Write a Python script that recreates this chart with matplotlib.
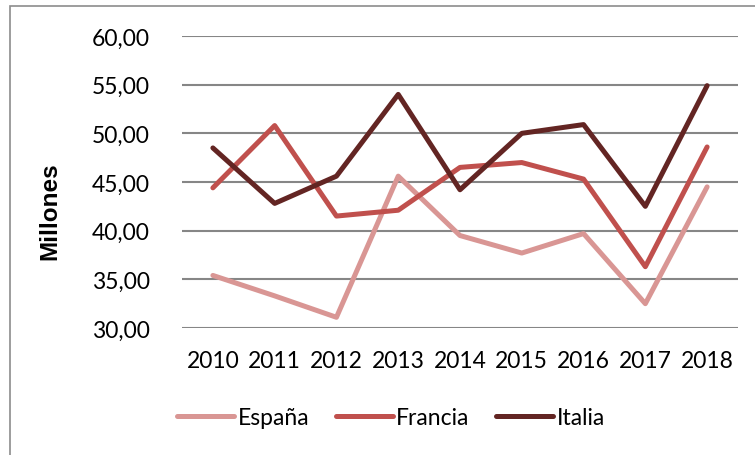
import matplotlib.pyplot as plt
from matplotlib.patches import Rectangle

years = ["2010", "2011", "2012", "2013", "2014", "2015", "2016", "2017", "2018"]
espana = [35.4, 33.3, 31.1, 45.6, 39.5, 37.7, 39.7, 32.5, 44.5]
francia = [44.4, 50.8, 41.5, 42.1, 46.5, 47.0, 45.3, 36.3, 48.6]
italia = [48.5, 42.8, 45.6, 54.0, 44.2, 50.0, 50.9, 42.5, 54.9]
yticks = [30, 35, 40, 45, 50, 55, 60]

W, H = 755, 456
fig = plt.figure(figsize=(W / 100, H / 100), dpi=100)
ax = fig.add_axes([182 / W, 1 - 329 / H, (738 - 182) / W, (329 - 37) / H])

# outer chart border (right/bottom clipped off in the reference)
fig.patches.append(Rectangle((10 / W, -0.1), 1.2, 1 - 7 / H + 0.1, transform=fig.transFigure,
                             fill=False, edgecolor="#8c8c8c", linewidth=1.2))

x = range(len(years))
ax.plot(x, espana, color="#D99694", linewidth=3.6, label="España", solid_capstyle="round")
ax.plot(x, francia, color="#C0504D", linewidth=3.6, label="Francia", solid_capstyle="round")
ax.plot(x, italia, color="#632523", linewidth=3.6, label="Italia", solid_capstyle="round")

ax.set_xlim(-0.5, len(years) - 0.5)
ax.set_ylim(30, 60)
ax.set_yticks(yticks)
ax.set_yticklabels([f"{v},00" for v in yticks])
ax.set_xticks(list(x))
ax.set_xticklabels(years)
ax.grid(axis="y", color="#868686", linewidth=1.5)
ax.set_axisbelow(True)
for s in ax.spines.values():
    s.set_visible(False)
ax.tick_params(length=0, labelsize=16.5)
ax.tick_params(axis="y", pad=23)
ax.tick_params(axis="x", pad=16)
for lab in ax.get_xticklabels() + ax.get_yticklabels():
    lab.set_fontfamily("Lato")

fig.text(50 / W, 1 - 211 / H, "Millones", rotation=90, ha="center", va="center",
         fontsize=17.5, fontweight="bold", fontfamily="Liberation Sans")

fig.legend(loc="center", bbox_to_anchor=(391 / W, 1 - 419 / H), ncol=3, frameon=False,
           prop={"family": "Lato", "size": 16.5}, handlelength=2.5, columnspacing=1.15,
           handletextpad=0.15)

fig.savefig("out.png", dpi=100)
